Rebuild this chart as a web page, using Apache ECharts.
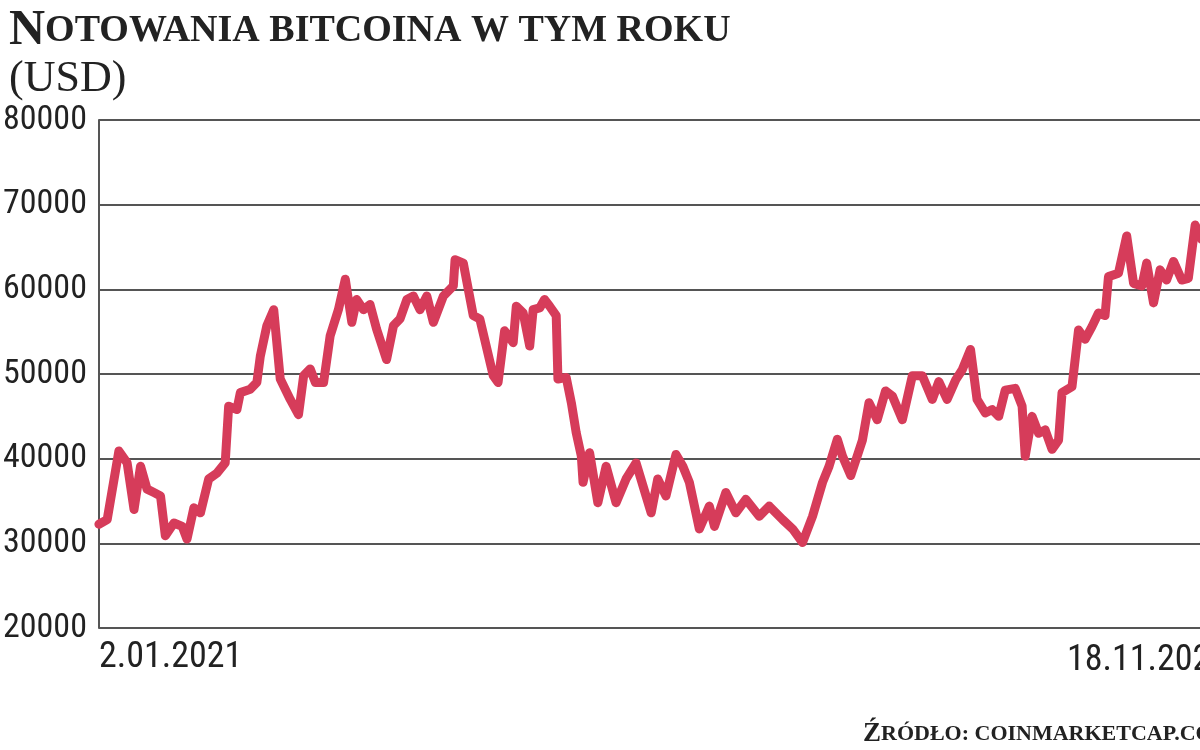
<!DOCTYPE html>
<html>
<head>
<meta charset="utf-8">
<script src="https://cdn.jsdelivr.net/npm/echarts@6/dist/echarts.min.js"></script>
<style>html,body{margin:0;padding:0;background:#fff;}#main{width:1200px;height:750px;}</style>
</head>
<body>
<div id="main"></div>
<script>
'use strict';

// days since 2.01.2021
const days = [0, 2.4, 5.8, 8.2, 10.2, 12.1, 14.0, 16.0, 17.9, 19.3, 21.8, 24.2, 25.6, 27.6, 29.5, 31.9, 34.3, 36.7, 37.7, 40.1, 41.1, 44.0, 45.9, 46.9, 48.8, 50.8, 52.7, 55.6, 58.0, 59.5, 61.4, 62.9, 65.3, 67.2, 69.6, 71.6, 73.5, 74.9, 76.9, 78.8, 80.7, 83.6, 85.6, 87.5, 89.5, 91.4, 93.3, 95.3, 97.2, 100.1, 103.0, 103.5, 105.9, 108.8, 110.7, 114.6,
  116.0, 117.9, 120.4, 121.3, 123.3, 125.2, 126.2, 128.1, 129.5, 131.0, 132.9, 133.4, 135.8, 137.3, 138.7, 140.2, 140.7, 142.6, 145.0, 147.4, 150.3, 153.2, 156.1, 159.0, 160.5, 162.4, 164.8, 167.7, 169.7, 171.6, 174.5, 177.4, 178.9, 182.2, 185.1, 188.0, 191.9, 194.8, 198.7, 201.6, 204.5, 207.4, 210.3, 212.2, 214.6, 216.1, 218.5,
  221.9, 223.8, 226.2, 228.6, 230.6, 233.5, 236.4, 239.3, 242.2, 244.1, 246.5, 249.0, 250.9, 253.3, 255.2, 257.6, 259.6, 261.5, 263.4, 266.3, 268.3, 269.2, 271.2, 273.1, 275.0, 277.0, 278.9, 279.9, 282.8, 284.7, 286.6, 288.6, 290.5, 292.4, 293.4, 296.3, 298.7, 300.7, 303.1, 304.5, 306.5, 308.4, 310.3, 312.3, 314.7, 316.6, 318.6, 320.5];

const prices = [32250, 32800, 40900, 39500, 34000, 39100, 36400, 36000, 35600, 30900, 32400, 32000, 30500, 34200, 33600, 37600, 38300, 39500, 46200, 45800, 47800, 48200, 49000, 52100, 55700, 57600, 49400, 47000, 45200, 49800, 50600, 49000, 49000, 54500, 57600, 61200, 56100, 58800, 57600, 58200, 55300, 51700, 55700, 56500, 58800, 59200, 57600, 59200, 56100, 59200, 60400, 63500, 63100, 56900, 56500, 49800,
  49000, 55100, 53700, 58000, 57200, 53300, 57600, 57800, 58800, 58000, 56900, 49400, 49600, 46600, 43100, 40300, 37200, 40700, 34800, 39100, 34800, 37600, 39500, 35600, 33600, 37600, 35600, 40500, 39100, 37200, 31700, 34400, 32000, 36000, 33600, 35200, 33200, 34400, 32800, 31700, 30100, 33200, 37200, 39100, 42300, 40300, 38000,
  42200, 46600, 44600, 48000, 47400, 44600, 49800, 49800, 47000, 49100, 47000, 49300, 50500, 52900, 47000, 45400, 45800, 45000, 48100, 48300, 46200, 40300, 45000, 43000, 43400, 41100, 42200, 47800, 48500, 55200, 54100, 55600, 57200, 56900, 61500, 61900, 66300, 60700, 60400, 63100, 58400, 62300, 61100, 63300, 61100, 61300, 67600, 65900];

const yTicks = [20000, 30000, 40000, 50000, 60000, 70000, 80000];
const startLabel = '2.01.2021';
const endLabel = '18.11.2021';

const narrow = '"Liberation Sans Narrow", "Roboto Condensed", "Liberation Sans", sans-serif';
const serif = '"Liberation Serif", "DejaVu Serif", serif';

let chart = echarts.init(document.getElementById('main'));

chart.setOption({
  animation: false,
  backgroundColor: '#fff',
  title: [{
    left: 4, top: 2,
    text: '{a|N}{b|OTOWANIA BITCOINA W TYM ROKU}\n{c|(USD)}',
    textStyle: {
      rich: {
        a: { fontFamily: serif, fontWeight: 'bold', fontSize: 50, color: '#222', lineHeight: 48 },
        b: { fontFamily: serif, fontWeight: 'bold', fontSize: 38, color: '#222', lineHeight: 48 },
        c: { fontFamily: serif, fontWeight: 'normal', fontSize: 44, color: '#222', lineHeight: 48 }
      }
    }
  }, {
    left: 1062, top: 638,
    text: endLabel,
    textStyle: { fontFamily: narrow, fontSize: 36, fontWeight: 'normal', color: '#222' }
  }, {
    left: 858, top: 716,
    text: '{a|Ź}{b|RÓDŁO: COINMARKETCAP.COM}',
    textStyle: {
      rich: {
        a: { fontFamily: serif, fontWeight: 'bold', fontSize: 27, color: '#222' },
        b: { fontFamily: serif, fontWeight: 'bold', fontSize: 22, color: '#222' }
      }
    }
  }],
  grid: { left: 95, right: 0, top: 120, bottom: 122, containLabel: false },
  xAxis: {
    type: 'value',
    min: 0, max: 320,
    axisLine: { show: false },
    axisTick: { show: false },
    splitLine: { show: false },
    axisLabel: {
      showMinLabel: true, showMaxLabel: false,
      formatter: v => (v === 0 ? startLabel : ''),
      align: 'left', margin: 12,
      fontFamily: narrow, fontSize: 36, color: '#222'
    }
  },
  yAxis: {
    type: 'value',
    min: yTicks[0], max: yTicks[yTicks.length - 1], interval: 10000,
    axisLine: { show: true, lineStyle: { color: '#555', width: 2 } },
    axisTick: { show: false },
    splitLine: { show: true, lineStyle: { color: '#555', width: 2 } },
    axisLabel: {
      margin: 12,
      formatter: v => String(v),
      fontFamily: narrow, fontSize: 34, color: '#222'
    }
  },
  series: [{
    type: 'line',
    data: days.map((d, i) => [d, prices[i]]),
    showSymbol: false,
    lineStyle: { color: '#d63c5a', width: 9, join: 'round', cap: 'round' },
    clip: true
  }]
});
</script>
</body>
</html>
